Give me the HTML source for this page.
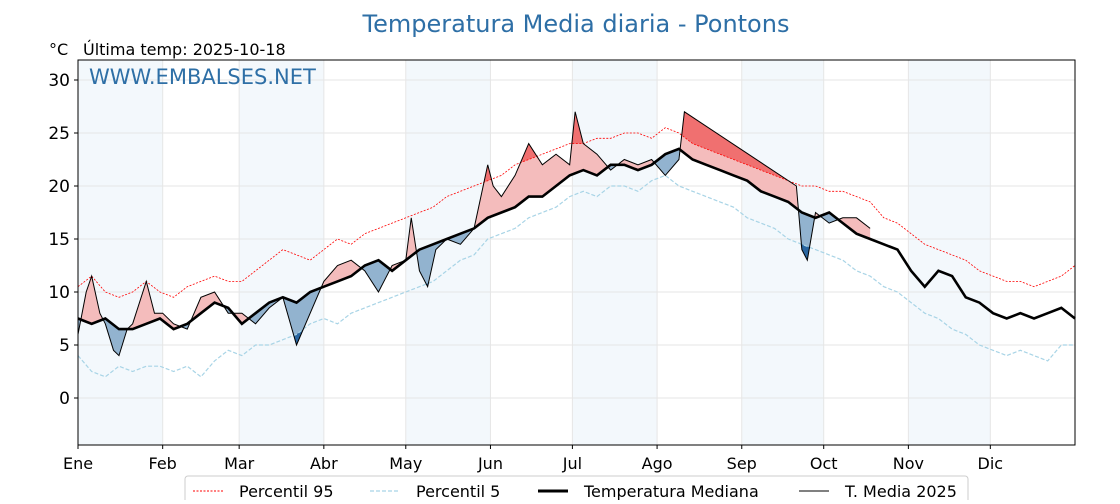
<!DOCTYPE html>
<html><head><meta charset="utf-8"><style>
body{margin:0;background:#fff;font-family:"DejaVu Sans","Liberation Sans",sans-serif;}
svg text{font-family:"DejaVu Sans","Liberation Sans",sans-serif;}
</style></head><body>
<svg id="chart" width="1120" height="500" xmlns="http://www.w3.org/2000/svg">
<text x="576" y="32" font-size="24" fill="#2e6fa6" text-anchor="middle">Temperatura Media diaria - Pontons</text>
<text x="49" y="55" font-size="16" fill="#000">°C</text>
<text x="83" y="55" font-size="16" fill="#000">Última temp: 2025-10-18</text>
<g id="bands"></g>
<g id="grid"></g>
<g id="fills"></g>
<g id="lines"></g>
<rect x="78" y="60" width="997" height="385" fill="none" stroke="#000" stroke-width="1"/>
<g id="axes"></g>
<text x="89" y="84" font-size="21" fill="#2e6fa6">WWW.EMBALSES.NET</text>
<g>
<rect x="185" y="476" width="783" height="34" rx="3" fill="#fff" stroke="#ccc"/>
<line x1="193" y1="491" x2="223" y2="491" stroke="red" stroke-width="1" stroke-dasharray="2,1.5"/>
<text x="239" y="497" font-size="16">Percentil 95</text>
<line x1="370" y1="491" x2="400" y2="491" stroke="#a8d4e6" stroke-width="1.2" stroke-dasharray="4,2"/>
<text x="416" y="497" font-size="16">Percentil 5</text>
<line x1="538" y1="491" x2="568" y2="491" stroke="#000" stroke-width="3"/>
<text x="584" y="497" font-size="16">Temperatura Mediana</text>
<line x1="799" y1="491" x2="829" y2="491" stroke="#000" stroke-width="1"/>
<text x="845" y="497" font-size="16">T. Media 2025</text>
</g>
</svg>
<script>
const medianVals=[7.5,7,7.5,6.5,6.5,7,7.5,6.5,7,8,9,8.5,7,8,9,9.5,9,10,10.5,11,11.5,12.5,13,12,13,14,14.5,15,15.5,16,17,17.5,18,19,19,20,21,21.5,21,22,22,21.5,22,23,23.5,22.5,22,21.5,21,20.5,19.5,19,18.5,17.5,17,17.5,16.5,15.5,15,14.5,14,12,10.5,12,11.5,9.5,9,8,7.5,8,7.5,8,8.5,7.5];
const p95Vals=[10.5,11.5,10,9.5,10,11,10,9.5,10.5,11,11.5,11,11,12,13,14,13.5,13,14,15,14.5,15.5,16,16.5,17,17.5,18,19,19.5,20,20.5,21,22,22.5,23,23.5,24,24,24.5,24.5,25,25,24.5,25.5,25,24,23.5,23,22.5,22,21.5,21,20.5,20,20,19.5,19.5,19,18.5,17,16.5,15.5,14.5,14,13.5,13,12,11.5,11,11,10.5,11,11.5,12.5];
const p5Vals=[4,2.5,2,3,2.5,3,3,2.5,3,2,3.5,4.5,4,5,5,5.5,6,7,7.5,7,8,8.5,9,9.5,10,10.5,11,12,13,13.5,15,15.5,16,17,17.5,18,19,19.5,19,20,20,19.5,20.5,21,20,19.5,19,18.5,18,17,16.5,16,15,14.5,14,13.5,13,12,11.5,10.5,10,9,8,7.5,6.5,6,5,4.5,4,4.5,4,3.5,5,5];
const medianDays=[0,5,10,15,20,25,30,35,40,45,50,55,60,65,70,75,80,85,90,95,100,105,110,115,120,125,130,135,140,145,150,155,160,165,170,175,180,185,190,195,200,205,210,215,220,225,230,235,240,245,250,255,260,265,270,275,280,285,290,295,300,305,310,315,320,325,330,335,340,345,350,355,360,365];
const t25Days=[0,3,5,8,10,13,15,18,20,25,28,31,35,40,45,50,55,60,65,70,75,80,85,90,95,100,105,110,115,120,122,125,128,131,135,140,145,150,152,155,160,165,170,175,180,182,185,190,195,200,205,210,215,220,222,263,265,267,270,275,280,285,290];
const t25Vals=[6,10,11.5,8,7,4.5,4,6.5,7,11,8,8,7,6.5,9.5,10,8,8,7,8.5,9.5,5,8,11,12.5,13,12,10,12.5,13,17,12,10.5,14,15,14.5,16,22,20,19,21,24,22,23,22,27,24,23,21.5,22.5,22,22.5,21,22.5,27,20,14,13,17.5,16.5,17,17,16];
const yTicks=[0,5,10,15,20,25,30];
const monthLabels=["Ene","Feb","Mar","Abr","May","Jun","Jul","Ago","Sep","Oct","Nov","Dic"];
const monthStarts=[0,31,59,90,120,151,181,212,243,273,304,334];

const X=d=>78+d*997/365, Y=v=>398-v*10.6;
const NS="http://www.w3.org/2000/svg";
function mk(tag,attrs,parent){const e=document.createElementNS(NS,tag);for(const k in attrs)e.setAttribute(k,attrs[k]);document.getElementById(parent).appendChild(e);return e;}
function interp(days,vals,d){for(let i=0;i<days.length-1;i++){if(d>=days[i]&&d<=days[i+1]){const f=(d-days[i])/(days[i+1]-days[i]||1);return vals[i]+f*(vals[i+1]-vals[i]);}}return vals[vals.length-1];}
const med=d=>interp(medianDays,medianVals,d), p95=d=>interp(medianDays,p95Vals,d), p5=d=>interp(medianDays,p5Vals,d), t25=d=>interp(t25Days,t25Vals,d);

monthStarts.forEach((m,i)=>{
  const end=i<11?monthStarts[i+1]:365;
  if(i%2==0){const r=mk('rect',{x:X(m),y:60,width:X(end)-X(m),height:385,fill:'#f3f8fc'},'bands');
  
  }
  const l=mk('line',{x1:X(m),x2:X(m),y1:60,y2:445,stroke:'#e6e6e6'},'grid');
  
  
  const t=mk('text',{x:X(m),y:469,'font-size':16,'text-anchor':'middle'},'axes');t.textContent=monthLabels[i];
  
  
  mk('line',{x1:X(m),x2:X(m),y1:445,y2:449,stroke:'#000'},'axes');
});
yTicks.forEach(v=>{
  const l=mk('line',{x1:78,x2:1075,y1:Y(v),y2:Y(v),stroke:'#e6e6e6'},'grid');
  
  
  mk('line',{x1:74,x2:78,y1:Y(v),y2:Y(v),stroke:'#000'},'axes');
  const t=mk('text',{x:70,y:Y(v)+6,'font-size':17,'text-anchor':'end'},'axes');t.textContent=v;
  
  
});
function band(upperF,lowerF,color,name){
  const end=t25Days[t25Days.length-1];const up=[],lo=[];
  for(let d=0;d<=end;d+=0.5){up.push(X(d)+','+Y(upperF(d)));lo.unshift(X(d)+','+Y(lowerF(d)));}
  const p=mk('polygon',{points:up.concat(lo).join(' '),fill:color,stroke:'none'},'fills');
  
  
}
band(d=>Math.max(t25(d),med(d)),med,'#f4bcbc','above-median-fill');
band(d=>Math.max(t25(d),p95(d)),p95,'#f07070','above-p95-fill');
band(med,d=>Math.min(t25(d),med(d)),'#92b3cf','below-median-fill');
band(p5,d=>Math.min(t25(d),p5(d)),'#2a66a0','below-p5-fill');
function line(days,vals,style,name){
  const p=mk('polyline',Object.assign({points:days.map((d,i)=>X(d)+','+Y(vals[i])).join(' '),fill:'none'},style),'lines');
  
  
}
line(medianDays,p95Vals,{stroke:'red','stroke-width':0.8,'stroke-dasharray':'2,1.5'},'p95-line');
line(medianDays,p5Vals,{stroke:'#a8d4e6','stroke-width':1.2,'stroke-dasharray':'4,2'},'p5-line');
line(medianDays,medianVals,{stroke:'#000','stroke-width':2.6},'median-line');
line(t25Days,t25Vals,{stroke:'#000','stroke-width':1},'t2025-line');
</script>
</body></html>
